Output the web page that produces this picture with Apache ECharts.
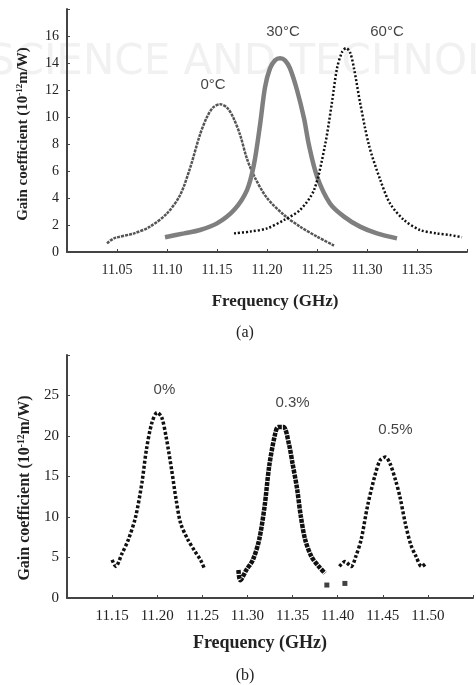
<!DOCTYPE html>
<html>
<head>
<meta charset="utf-8">
<script src="https://cdn.jsdelivr.net/npm/echarts@6/dist/echarts.min.js"></script>
<style>
  html, body { margin: 0; padding: 0; background: #fff; }
  #chart { width: 476px; height: 685px; }
</style>
</head>
<body>
<div id="chart"></div>
<script>
// (a) gain curves vs temperature, [GHz, gain]
const temp0 = [[11.040,0.64],[11.047,1.01],[11.067,1.38],[11.083,1.88],[11.100,2.86],[11.113,4.2],[11.123,6.2],[11.133,8.7],[11.140,10.0],[11.146,10.7],[11.153,10.95],[11.160,10.7],[11.166,10.0],[11.173,8.7],[11.180,6.9],[11.188,5.5],[11.200,4.0],[11.217,2.74],[11.233,1.88],[11.250,1.14],[11.267,0.48]];
const temp30 = [[11.098,1.09],[11.117,1.38],[11.133,1.63],[11.150,2.12],[11.167,3.11],[11.180,4.59],[11.187,6.5],[11.193,9.4],[11.198,12.2],[11.203,13.6],[11.208,14.2],[11.213,14.35],[11.218,14.2],[11.223,13.6],[11.230,12.0],[11.237,9.9],[11.242,7.9],[11.250,5.6],[11.263,3.6],[11.277,2.62],[11.293,1.88],[11.310,1.38],[11.330,1.01]];
const temp60 = [[11.167,1.38],[11.183,1.51],[11.200,1.75],[11.217,2.37],[11.233,3.11],[11.247,4.59],[11.258,7.9],[11.265,11.1],[11.270,13.6],[11.275,14.8],[11.279,15.1],[11.283,14.8],[11.287,13.6],[11.293,11.1],[11.302,7.9],[11.313,5.4],[11.323,3.6],[11.337,2.37],[11.353,1.63],[11.370,1.38],[11.383,1.26],[11.395,1.09]];
const labelsA = [['0°C',11.146,12.4],['30°C',11.216,16.3],['60°C',11.320,16.3]];
const xTicksA = ['11.05','11.10','11.15','11.20','11.25','11.30','11.35'];
const yTicksA = ['0','2','4','6','8','10','12','14','16'];

// (b) gain curves vs strain
const strain0 = [[11.150,4.7],[11.154,3.9],[11.161,5.5],[11.168,7.2],[11.176,10.0],[11.183,14.2],[11.188,18.3],[11.194,21.6],[11.200,22.9],[11.205,22.3],[11.210,19.8],[11.216,15.8],[11.221,12.1],[11.226,9.2],[11.234,7.2],[11.241,5.9],[11.248,4.7],[11.252,3.7]];
const strain03 = [[11.290,3.46],[11.292,2.2],[11.299,3.5],[11.306,4.7],[11.313,7.2],[11.319,11.3],[11.324,16.2],[11.330,19.9],[11.334,21.1],[11.340,21.1],[11.346,19.0],[11.350,16.6],[11.355,13.5],[11.359,10.2],[11.364,7.2],[11.371,5.1],[11.379,3.9],[11.386,3.05]];
const strain05 = [[11.402,3.9],[11.408,4.5],[11.415,3.9],[11.420,5.1],[11.426,7.2],[11.433,11.3],[11.441,15.0],[11.447,17.0],[11.453,17.4],[11.458,16.6],[11.464,14.6],[11.469,12.5],[11.475,9.2],[11.481,6.6],[11.487,5.1],[11.493,3.9],[11.498,4.3]];
const strayB = [[11.388,1.6],[11.408,1.8]];
const labelsB = [['0%',11.208,25.7],['0.3%',11.350,24.1],['0.5%',11.464,20.7]];
const xTicksB = ['11.15','11.20','11.25','11.30','11.35','11.40','11.45','11.50'];
const yTicksB = ['0','5','10','15','20','25'];

const serif = 'Liberation Serif';
const axisCol = '#444';

function pickLabel(list, digits) {
  return function (v) {
    const s = digits ? v.toFixed(digits) : String(Math.round(v));
    return list.indexOf(s) >= 0 ? s : '';
  };
}

function xAxisCfg(grid, min, max, ticks, size) {
  return {
    type: 'value', gridIndex: grid, min: min, max: max, interval: 0.05,
    axisLine: { lineStyle: { color: axisCol, width: 2 } },
    axisTick: { inside: true, length: 3, lineStyle: { color: axisCol } },
    axisLabel: { formatter: pickLabel(ticks, 2), fontFamily: serif, fontSize: size, color: '#222', margin: 11 },
    splitLine: { show: false }
  };
}

function yAxisCfg(grid, max, step, ticks, size) {
  return {
    type: 'value', gridIndex: grid, min: 0, max: max, interval: step,
    axisLine: { show: true, lineStyle: { color: axisCol, width: 2 } },
    axisTick: { show: true, inside: true, length: 3, lineStyle: { color: axisCol } },
    axisLabel: { formatter: pickLabel(ticks, 0), fontFamily: serif, fontSize: size, color: '#222', margin: 8 },
    splitLine: { show: false }
  };
}

function curve(data, idx, color, width, dash) {
  return {
    type: 'line', data: data, xAxisIndex: idx, yAxisIndex: idx,
    smooth: 0.3, showSymbol: false, silent: true,
    lineStyle: { color: color, width: width, type: dash }
  };
}

function notes(list, idx) {
  return {
    type: 'scatter', xAxisIndex: idx, yAxisIndex: idx, symbolSize: 0, silent: true,
    data: list.map(d => ({ name: d[0], value: [d[1], d[2]] })),
    label: { show: true, position: 'inside', formatter: '{b}', fontFamily: 'Liberation Sans', fontSize: 15, color: '#111' }
  };
}

function yTitle(x, y, size) {
  return {
    type: 'text', x: x, y: y, rotation: Math.PI / 2,
    style: {
      text: '{a|Gain coefficient (10}{s|-12}{a|m/W)}',
      align: 'center', verticalAlign: 'middle',
      rich: {
        a: { fontFamily: serif, fontWeight: 'bold', fontSize: size, fill: '#222' },
        s: { fontFamily: serif, fontWeight: 'bold', fontSize: size * 0.6, fill: '#222', verticalAlign: 'top', padding: [0, 0, 6, 0] }
      }
    }
  };
}

function plainText(x, y, text, size, bold) {
  return {
    type: 'text', x: x, y: y,
    style: { text: text, align: 'center', verticalAlign: 'middle', fontFamily: serif, fontWeight: bold ? 'bold' : 'normal', fontSize: size, fill: '#222' }
  };
}

const chart = echarts.init(document.getElementById('chart'));
chart.setOption({
  backgroundColor: '#fff',
  animation: false,
  grid: [
    { left: 67, right: 9, top: 9, bottom: 433 },
    { left: 67, right: -5, top: 355, bottom: 87 }
  ],
  xAxis: [
    xAxisCfg(0, 11.00, 11.40, xTicksA, 14),
    xAxisCfg(1, 11.10, 11.55, xTicksB, 15)
  ],
  yAxis: [
    yAxisCfg(0, 18, 2, yTicksA, 14),
    yAxisCfg(1, 30, 5, yTicksB, 15)
  ],
  graphic: [
    {
      type: 'text', x: -12, y: 63, z: -10,
      style: { text: 'SCIENCE AND TECHNOLOGY', verticalAlign: 'middle', fontFamily: 'DejaVu Sans', fontSize: 42, fill: '#f1f1f1' }
    },
    yTitle(23, 134, 15),
    plainText(275, 302, 'Frequency (GHz)', 17, true),
    plainText(245, 333, '(a)', 16, false),
    yTitle(25, 488, 16),
    plainText(260, 643, 'Frequency (GHz)', 18, true),
    plainText(245, 676, '(b)', 16, false)
  ],
  series: [
    curve(temp0, 0, '#555', 2.5, [3, 1]),
    curve(temp30, 0, '#7f7f7f', 4.5, 'solid'),
    curve(temp60, 0, '#111', 2.5, [2, 2]),
    notes(labelsA, 0),
    curve(strain0, 1, '#111', 3.5, [3, 2]),
    curve(strain03, 1, '#111', 4.5, [4, 1]),
    curve(strain05, 1, '#111', 3.5, [3, 2]),
    {
      type: 'scatter', xAxisIndex: 1, yAxisIndex: 1, data: strayB, silent: true,
      symbol: 'rect', symbolSize: 5, itemStyle: { color: '#111' }
    },
    notes(labelsB, 1)
  ]
});
</script>
</body>
</html>
